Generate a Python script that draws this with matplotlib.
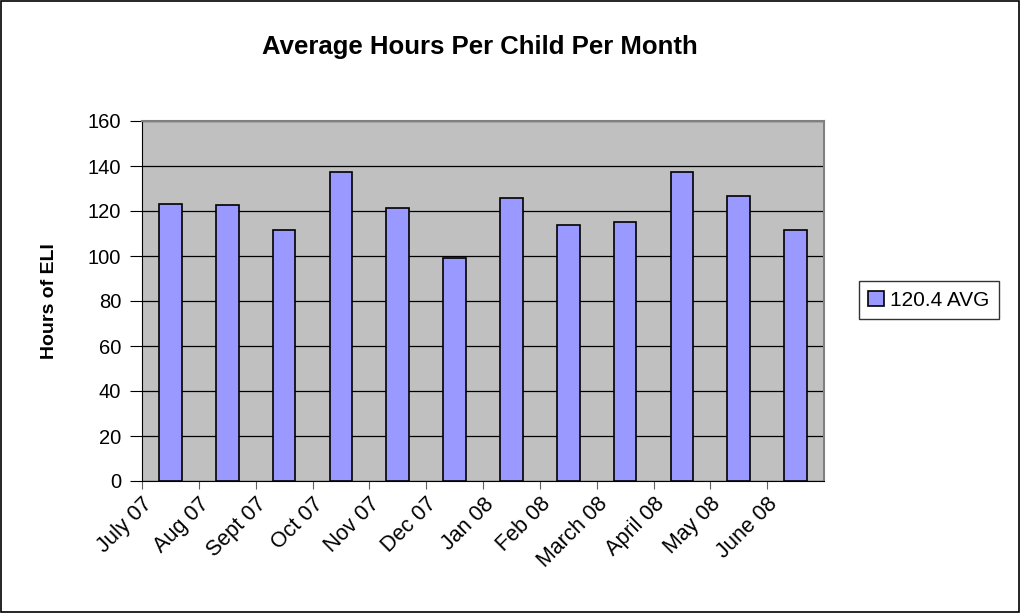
import numpy as np
import matplotlib.pyplot as plt
from matplotlib.patches import Rectangle

plt.rcParams['font.family'] = ['Liberation Sans', 'DejaVu Sans']

months = ['July 07', 'Aug 07', 'Sept 07', 'Oct 07', 'Nov 07', 'Dec 07',
          'Jan 08', 'Feb 08', 'March 08', 'April 08', 'May 08', 'June 08']
hours = [123.3, 122.5, 111.6, 137.3, 121.3, 99.0,
         125.9, 113.9, 115.2, 137.3, 126.5, 111.6]
series_label = '120.4 AVG'

fig = plt.figure(figsize=(10.21, 6.13), dpi=100)
ax = fig.add_axes([142 / 1021, 1 - 481 / 613, 682 / 1021, 360 / 613])
ax.set_facecolor('#c0c0c0')

x = np.arange(len(months))
ax.bar(x, hours, width=0.4, color='#9999ff', edgecolor='black', linewidth=1.2,
       label=series_label, zorder=3)

ax.set_xlim(-0.5, len(months) - 0.5)
ax.set_ylim(0, 160)
ax.set_yticks(range(0, 161, 20))
ax.yaxis.grid(True, color='black', linewidth=0.9, zorder=1)
ax.tick_params(axis='y', labelsize=14.5, length=9, direction='out',
               color='black', pad=6)

# category boundaries carry ticks and labels (Excel style)
ax.set_xticks(x - 0.5)
ax.set_xticklabels(months, rotation=45, ha='right', rotation_mode='anchor',
                   fontsize=15.5)
ax.tick_params(axis='x', length=6, direction='out', color='#606060', pad=3)

for side in ['top', 'right']:
    ax.spines[side].set_color('#808080')
    ax.spines[side].set_linewidth(1.5)
ax.spines['left'].set_color('black')
ax.spines['bottom'].set_color('black')

ax.set_ylabel('Hours of ELI', fontsize=14, fontweight='bold')
ax.yaxis.set_label_coords(-84 / 682, 0.5)
fig.text(480 / 1021, 1 - 47 / 613, 'Average Hours Per Child Per Month',
         ha='center', va='center', fontsize=18.5, fontweight='bold')

leg = fig.legend(loc='center', bbox_to_anchor=(929 / 1021, 1 - 300 / 613),
                 fontsize=15, frameon=True, fancybox=False, edgecolor='black',
                 handlelength=0.75, handleheight=0.75, handletextpad=0.3,
                 borderpad=0.45)
leg.get_frame().set_linewidth(1.0)

fig.patches.append(Rectangle((0.001, 0.001), 0.997, 0.997, transform=fig.transFigure,
                             fill=False, edgecolor='black', linewidth=1.2))

fig.savefig('out.png', dpi=100)
